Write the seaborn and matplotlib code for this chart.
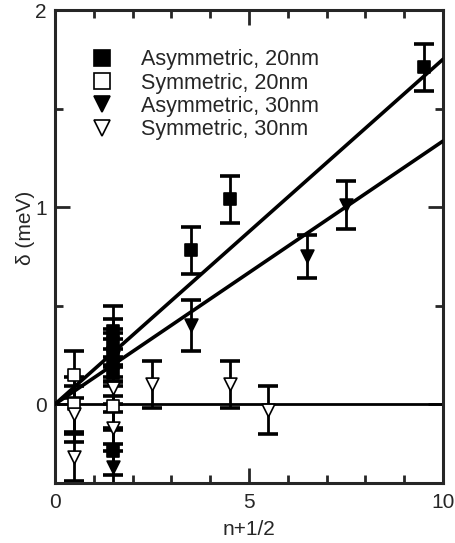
import matplotlib
matplotlib.use("Agg")
import matplotlib.pyplot as plt
import seaborn as sns
import pandas as pd
import numpy as np
from matplotlib.lines import Line2D
from matplotlib.ticker import MultipleLocator

# ---- data ----
asym20_x = [9.5, 4.5, 3.5, 1.5, 1.5, 1.5, 1.5, 1.5, 1.5]
asym20_y = [1.71, 1.04, 0.78, 0.37, 0.31, 0.26, 0.21, 0.16, -0.24]
asym20_e = [0.12, 0.12, 0.12, 0.13, 0.12, 0.12, 0.12, 0.12, 0.12]

sym20_x = [0.5, 0.5, 1.5]
sym20_y = [0.15, 0.0, -0.01]
sym20_e = [0.12, 0.14, 0.12]

asym30_x = [7.5, 6.5, 3.5, 1.5, 1.5]
asym30_y = [1.01, 0.75, 0.40, 0.24, -0.32]
asym30_e = [0.12, 0.11, 0.13, 0.12, 0.12]

sym30_x = [5.5, 4.5, 2.5, 1.5, 1.5, 0.5, 0.5]
sym30_y = [-0.03, 0.10, 0.10, 0.08, -0.12, -0.05, -0.27]
sym30_e = [0.12, 0.12, 0.12, 0.12, 0.12, 0.14, 0.12]

fit_x = [0, 10]
fit20_y = [0, 1.75]
fit30_y = [0, 1.335]

labels = ["Asymmetric, 20nm", "Symmetric, 20nm", "Asymmetric, 30nm", "Symmetric, 30nm"]

# ---- style ----
sns.set_style("ticks")
plt.rcParams['font.family'] = ['Liberation Sans', 'DejaVu Sans']

fig = plt.figure(figsize=(4.55, 5.43), dpi=100)
ax = fig.add_axes([55/455, 1-483/543, (443-55)/455, (483-10)/543])

series = [
    (asym20_x, asym20_y, asym20_e, "s", "black"),
    (sym20_x, sym20_y, sym20_e, "s", "white"),
    (asym30_x, asym30_y, asym30_e, "v", "black"),
    (sym30_x, sym30_y, sym30_e, "v", "white"),
]

# zero line
ax.axhline(0, color="black", lw=2, zorder=1)

# fit lines
fit_df = pd.DataFrame({"x": fit_x * 2, "y": fit20_y + fit30_y,
                       "fit": ["20"] * 2 + ["30"] * 2})
sns.lineplot(data=fit_df, x="x", y="y", units="fit", estimator=None,
             color="black", lw=2.6, ax=ax, legend=False, zorder=3)

for xs, ys, es, m, fc in series:
    ax.errorbar(xs, ys, yerr=es, fmt="none", ecolor="black", elinewidth=2,
                capsize=7, capthick=2.6, zorder=2)

for xs, ys, es, m, fc in series:
    df = pd.DataFrame({"x": xs, "y": ys})
    sns.scatterplot(data=df, x="x", y="y", marker=m, s=85, color=fc,
                    edgecolor="black", linewidth=1.2, ax=ax, zorder=4,
                    legend=False)

ax.set_xlim(0, 10)
ax.set_ylim(-0.4, 2)
ax.xaxis.set_major_locator(MultipleLocator(5))
ax.xaxis.set_minor_locator(MultipleLocator(1))
ax.yaxis.set_major_locator(MultipleLocator(1))
ax.yaxis.set_minor_locator(MultipleLocator(0.5))
ax.tick_params(which="both", direction="in", top=True, right=True,
               width=2, labelsize=15)
ax.tick_params(axis="x", pad=7)
ax.tick_params(axis="y", pad=6)
ax.tick_params(which="major", length=11)
ax.tick_params(which="minor", length=6)
for s in ax.spines.values():
    s.set_linewidth(2.2)
    s.set_visible(True)

ax.set_xlabel("n+1/2", fontsize=15, labelpad=6)
ax.set_ylabel("δ (meV)", fontsize=15)
ax.yaxis.set_label_coords(-0.052, 0.539)

handles = [Line2D([], [], ls="none", marker=m, markersize=11,
                  markerfacecolor=fc, markeredgecolor="black", markeredgewidth=1.2)
           for _, _, _, m, fc in series]
ax.legend(handles, labels, loc="upper left", bbox_to_anchor=(0.059, 0.94),
          frameon=False, fontsize=15.5, handletextpad=1.23, labelspacing=0.11,
          borderpad=0, handlelength=1.2)

fig.savefig("out.png", dpi=100)
